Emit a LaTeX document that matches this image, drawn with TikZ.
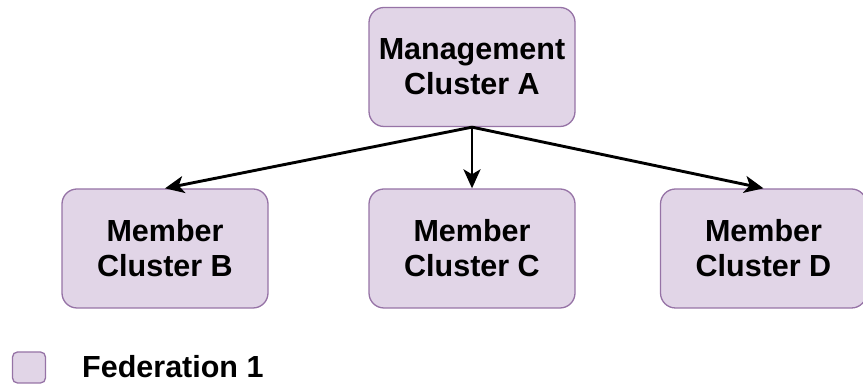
\documentclass[tikz,border=0pt]{standalone}
\usepackage{fontspec}
\setmainfont{Liberation Sans}
\usepackage{xcolor}
\usetikzlibrary{arrows.meta}
\definecolor{clfill}{HTML}{E1D5E7}
\definecolor{cldraw}{HTML}{9673A6}
\tikzset{
    cluster/.style={draw=cldraw, fill=clfill, line width=1.3pt, rounded corners=15pt,
        minimum width=206pt, minimum height=119pt, inner sep=0pt, align=center,
        font=\fontsize{30.5}{35}\selectfont\bfseries},
    link/.style={-{Stealth[length=19pt,width=17pt,inset=5pt]}, line width=2.9pt}
}
\begin{document}
\begin{tikzpicture}[x=1pt,y=1pt]
    \useasboundingbox (0,0) rectangle (863,385);

    % Management cluster
    \node[cluster] (mgmt) at (472,318) {Management\\Cluster A};

    % Member clusters
    \node[cluster] (memB) at (165,136.5) {Member\\Cluster B};
    \node[cluster] (memC) at (472,136.5) {Member\\Cluster C};
    \node[cluster] (memD) at (763.5,136.5) {Member\\Cluster D};

    % Federation links
    \draw[link] (mgmt.south) -- (memB.north);
    \draw[link] (mgmt.south) -- (memC.north);
    \draw[link] (mgmt.south) -- (memD.north);

    % Legend
    \node[draw=cldraw, fill=clfill, line width=1.3pt, rounded corners=5pt,
        minimum width=33pt, minimum height=31pt, inner sep=0pt] (legbox) at (29,17.5) {};
    \node[anchor=base west, inner sep=0pt, font=\fontsize{30.5}{35}\selectfont\bfseries]
        (legtext) at (82,7) {Federation 1};
\end{tikzpicture}
\end{document}
